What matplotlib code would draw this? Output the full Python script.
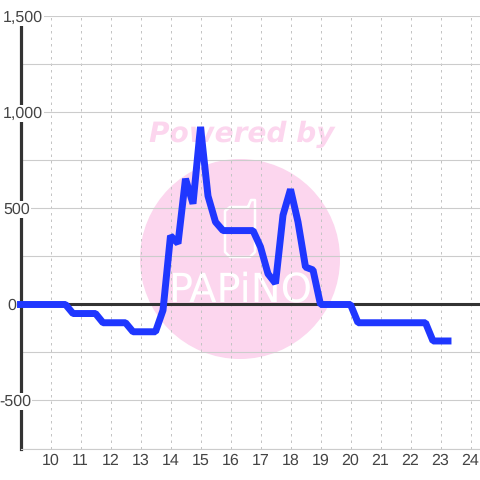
import matplotlib
matplotlib.use("Agg")
import matplotlib.pyplot as plt
from matplotlib.patches import Circle

hours = [9, 9.25, 9.5, 9.75, 10, 10.25, 10.5, 10.75, 11, 11.25, 11.5, 11.75, 12, 12.25, 12.5, 12.75,
         13, 13.25, 13.5, 13.75, 14, 14.25, 14.5, 14.75, 15, 15.25, 15.5, 15.75, 16, 16.25, 16.5, 16.75,
         17, 17.25, 17.5, 17.75, 18, 18.25, 18.5, 18.75, 19, 19.25, 19.5, 19.75, 20, 20.25, 20.5, 20.75,
         21, 21.25, 21.5, 21.75, 22, 22.25, 22.5, 22.75, 23, 23.25]
values = [0, 0, 0, 0, 0, 0, 0, -47, -47, -47, -47, -95, -95, -95, -95, -142,
          -142, -142, -142, -30, 358, 318, 655, 525, 925, 565, 430, 385, 385, 385, 385, 385,
          300, 160, 110, 465, 600, 430, 195, 180, 0, 0, 0, 0, 0, -95, -95, -95,
          -95, -95, -95, -95, -95, -95, -95, -190, -190, -190]
xticks = list(range(10, 25))
y_grid = [-750, -500, -250, 0, 250, 500, 750, 1000, 1250, 1500]
y_labels = [-500, 0, 500, 1000, 1500]
y_texts = ["-500", "0", "500", "1,000", "1,500"]
y_label_right_px = [31, 16, 30, 43, 43]

plt.rcParams['font.family'] = ['Liberation Sans', 'DejaVu Sans']
plt.rcParams['text.hinting'] = 'none'
plt.rcParams['text.hinting_factor'] = 1
fig = plt.figure(figsize=(4.8, 4.8), dpi=100)
W = 480.0
def fx(p): return p / W
def fy(p): return 1 - p / W

bg = fig.add_axes([0, 0, 1, 1], zorder=0)
bg.set_xlim(0, 480); bg.set_ylim(480, 0); bg.axis('off')

ax = fig.add_axes([fx(20.5), fy(448.5), fx(459.5), (448.5 - 16.5) / W], zorder=1)
ax.patch.set_alpha(0)
ax.set_xlim(9, 9 + 459.5 / 30)
ax.set_ylim(-750, 1500)
ax.set_xticks(xticks)
ax.set_yticks(y_grid)
ax.set_yticklabels([])
ax.tick_params(length=0, labelsize=11.2, labelcolor='#444444', pad=3.5)
ax.grid(axis='y', color='#cccccc', lw=0.8, zorder=1)
ax.grid(axis='x', color='#c4c4c4', lw=0.72, ls=(0, (2.5, 4)), zorder=1)
for s in ('top', 'right'):
    ax.spines[s].set_visible(False)
ax.spines['bottom'].set_color('#cccccc')
ax.spines['bottom'].set_linewidth(0.8)
ax.spines['left'].set_color('#333333')
ax.spines['left'].set_linewidth(2.3)
ax.axhline(0, color='#333333', lw=2.2, zorder=2)
ax.plot(hours, values, color='#1f37ff', lw=5, zorder=7, solid_joinstyle='bevel',
        solid_capstyle='projecting', clip_on=False)

bg.add_patch(Circle((240, 259), 100, fc='#fcd6ee', ec='none'))
bg.text(242, 134, "Powered by", fontsize=20.5, fontweight='bold', fontstyle='italic', color='#fcd6ee',
        family='DejaVu Sans', ha='center', va='center')
bg.plot([248, 230, 225, 225, 230, 250, 255, 255, 251, 248],
        [207, 207, 211, 252, 257, 257, 252, 200, 200, 207], color='white', lw=1.8)
bg.text(240, 290, "PAPiNO", fontsize=29, color='white', family='DejaVu Sans', ha='center', va='center')

for v, t, px in zip(y_labels, y_texts, y_label_right_px):
    ax.annotate(t, xy=(9, v), xytext=(px - 20.5, -1), textcoords='offset pixels', ha='right', va='center',
                fontsize=11.2, color='#444444', zorder=6, annotation_clip=False,
                bbox=dict(fc='white', ec='none', pad=0.6))

fig.savefig("out.png", dpi=100)
